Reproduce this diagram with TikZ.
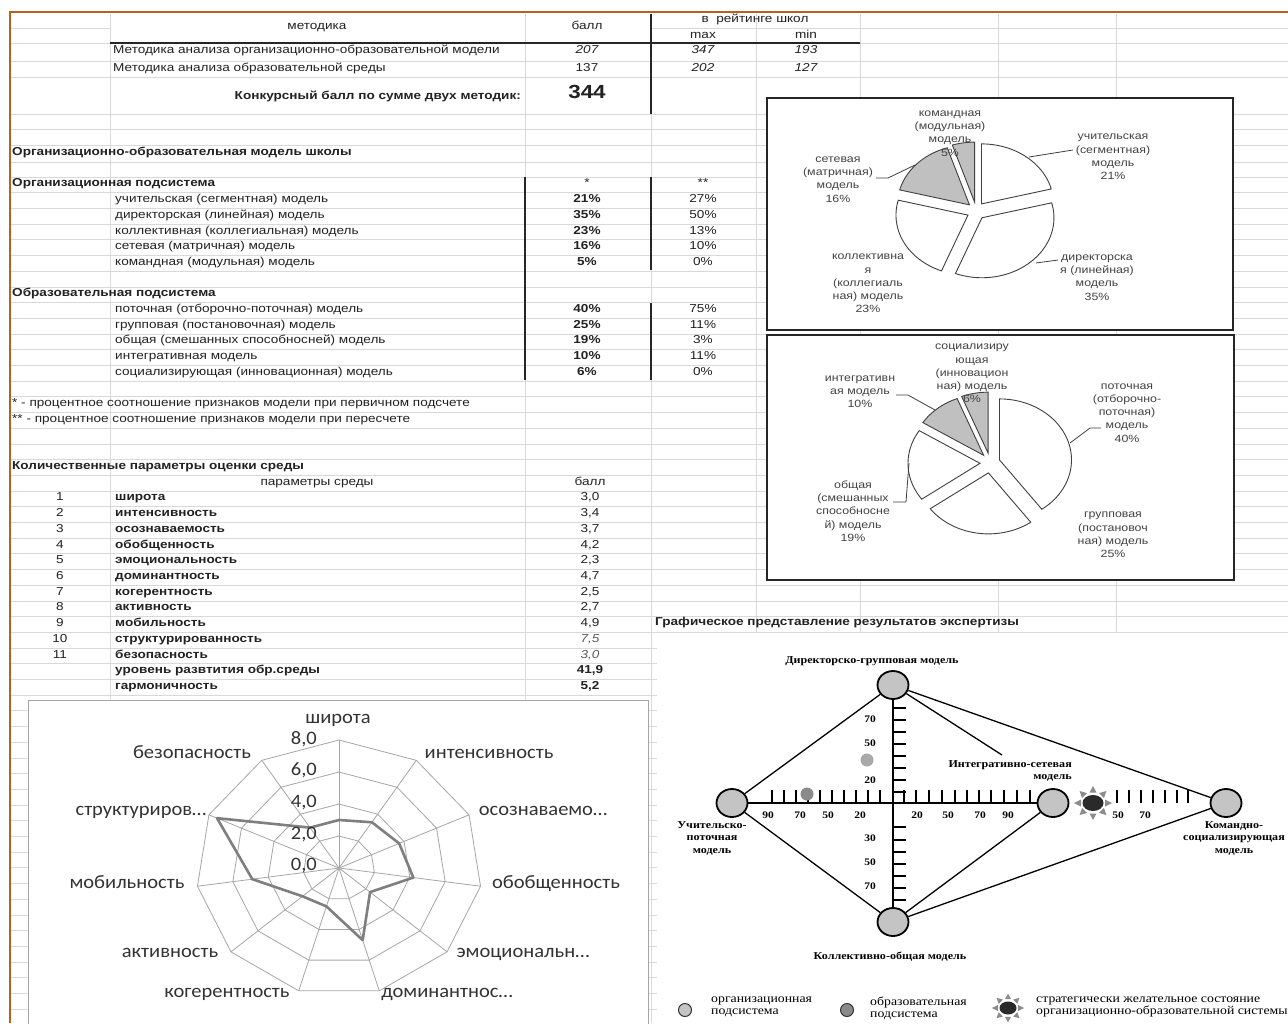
\documentclass[tikz,border=0pt]{standalone}
\usepackage{fontspec}
\usetikzlibrary{shapes.geometric}
\setmainfont{Liberation Sans}
\newfontfamily\xl{Liberation Sans}[FakeStretch=1.18]
\newfontfamily\xs{Liberation Serif}[FakeStretch=1.15]
\newfontfamily\xc{Carlito}[FakeStretch=1.08]
\definecolor{gridc}{HTML}{D9D9D9}
\definecolor{orangec}{HTML}{B4631E}
\definecolor{txt}{HTML}{222222}
\definecolor{piegray}{HTML}{C0C0C0}
\definecolor{radgrid}{HTML}{A6A6A6}
\definecolor{radser}{HTML}{7F7F7F}
\definecolor{dcfill}{HTML}{C4C4C4}
\definecolor{dotA}{HTML}{A9A9A9}
\definecolor{dotB}{HTML}{8A8A8A}
\definecolor{sunc}{HTML}{2A2A2A}
\definecolor{rayc}{HTML}{8C8C8C}
\newcommand\mysun[3]{%
  \foreach \ang in {0,45,...,315}{%
    \fill[rayc] ({#1+(#3*19)*sin(\ang)},{#2-(#3*17)*cos(\ang)})
      -- ({#1+(#3*12)*sin(\ang)+(#3*3.5)*cos(\ang)},{#2-(#3*10.5)*cos(\ang)+(#3*3.5)*sin(\ang)})
      -- ({#1+(#3*12)*sin(\ang)-(#3*3.5)*cos(\ang)},{#2-(#3*10.5)*cos(\ang)-(#3*3.5)*sin(\ang)}) -- cycle;}}
\begin{document}
\begin{tikzpicture}[x=1pt,y=-1pt,
  t/.style={inner sep=0pt, text=txt, font=\xl\fontsize{11.5}{13}\selectfont},
  tl/.style={t, anchor=mid west},
  tc/.style={t, anchor=mid},
  tr/.style={t, anchor=mid east},
  tb/.style={font=\xl\bfseries\fontsize{11.5}{13}\selectfont},
  ti/.style={font=\xl\itshape\fontsize{11.5}{13}\selectfont},
  pl/.style={inner sep=0pt, text=txt!85, align=center, font=\xl\fontsize{10.5}{13.2}\selectfont},
  rl/.style={inner sep=0pt, text=black!80, anchor=mid, font=\xc\fontsize{19}{21}\selectfont},
  ds/.style={inner sep=0pt, text=black, align=center, font=\xs\bfseries\fontsize{10.5}{12.5}\selectfont},
  dn/.style={inner sep=0pt, text=black, anchor=mid, font=\xs\bfseries\fontsize{10}{12}\selectfont},
  lg/.style={inner sep=0pt, text=black, anchor=north west, align=left, font=\xs\fontsize{12}{11.5}\selectfont},
  gl/.style={gridc, line width=0.8pt},
  bl/.style={black!85, line width=1.1pt},
  slice/.style={draw=black!75, line width=0.9pt},
  lead/.style={draw=black!75, line width=0.8pt},
  radgridline/.style={radgrid, line width=0.8pt},
  dcirc/.style={ellipse, draw=black, line width=1.8pt, fill=dcfill, minimum width=31pt, minimum height=28pt, inner sep=0pt},
  dline/.style={black, line width=1.3pt},
  daxis/.style={black, line width=2.6pt},
  dtick/.style={black, line width=1.1pt},
  sunnode/.style={ellipse, fill=sunc, minimum width=21pt, minimum height=16pt, inner sep=0pt}
]
\useasboundingbox (0,0) rectangle (1288,1023);
\fill[white] (0,0) rectangle (1288,1023);
% ---------- grid ----------
\foreach \yy in {43,61,77,114,129,145,162,177}{\draw[gl] (10,\yy) -- (1288,\yy);}
\draw[gl] (10,28) -- (110,28);
\draw[gl] (651,28) -- (1288,28);
\foreach \k in {1,...,54}{\draw[gl] (10,{177+15.7*\k}) -- (1288,{177+15.7*\k});}
\foreach \xx in {110,525,651,756,860,998,1116}{\draw[gl] (\xx,14) -- (\xx,1023);}
% ---------- orange frame ----------
\draw[orangec, line width=2pt] (10,1023) -- (10,12) -- (1288,12);
% ---------- black table lines ----------
\draw[bl] (110,43) -- (860,43);
\draw[bl] (651,14) -- (651,114);
\draw[bl] (525,177) -- (525,380);
\draw[bl] (651,177) -- (651,270);
\draw[bl] (651,303) -- (651,380);
% ---------- top table ----------
\node[tc] (h1) at (317,27) {методика};
\node[tc] (h2) at (587,27) {балл};
\node[tc] (h3) at (755,20) {в\ \ рейтинге школ};
\node[tc] (h4) at (703,36) {max};
\node[tc] (h5) at (806,36) {min};
\node[tl] (m1) at (113,51) {Методика анализа организационно-образовательной модели};
\node[tc,ti] (m1b) at (587,51) {207};
\node[tc,ti] (m1c) at (703,51) {347};
\node[tc,ti] (m1d) at (806,51) {193};
\node[tl] (m2) at (113,69) {Методика анализа образовательной среды};
\node[tc] (m2b) at (587,69) {137};
\node[tc,ti] (m2c) at (703,69) {202};
\node[tc,ti] (m2d) at (806,69) {127};
\node[tr,tb] (kb) at (521,97) {Конкурсный балл по сумме двух методик:};
\node[tc,font=\xl\bfseries\fontsize{19}{20}\selectfont] (kv) at (587,96) {344};
% ---------- model section ----------
\node[tl,tb] (sec1) at (12,153) {Организационно-образовательная модель школы};
\node[tl,tb] (sec2) at (12,184.35) {Организационная подсистема};
\node[tc] (st1) at (587,184.35) {*};
\node[tc] (st2) at (703,184.35) {**};
\foreach \n/\a/\b [count=\i] in {учительская (сегментная) модель/21\%/27\%, директорская (линейная) модель/35\%/50\%, коллективная (коллегиальная) модель/23\%/13\%, сетевая (матричная) модель/16\%/10\%, командная (модульная) модель/5\%/0\%}{
  \pgfmathsetmacro\yy{184.35+15.7*\i}
  \node[tl] (on\i) at (115,\yy) {\n};
  \node[tc,tb] (oa\i) at (587,\yy) {\a};
  \node[tc] (ob\i) at (703,\yy) {\b};
}
\node[tl,tb] (sec3) at (12,294.25) {Образовательная подсистема};
\foreach \n/\a/\b [count=\i] in {поточная (отборочно-поточная) модель/40\%/75\%, групповая (постановочная) модель/25\%/11\%, общая (смешанных способносней) модель/19\%/3\%, интегративная модель/10\%/11\%, социализирующая (инновационная) модель/6\%/0\%}{
  \pgfmathsetmacro\yy{184.35+15.7*(7+\i)}
  \node[tl] (en\i) at (115,\yy) {\n};
  \node[tc,tb] (ea\i) at (587,\yy) {\a};
  \node[tc] (eb\i) at (703,\yy) {\b};
}
\node[tl] (fn1) at (12,404.15) {* - процентное соотношение признаков модели при первичном подсчете};
\node[tl] (fn2) at (12,419.85) {** - процентное соотношение признаков модели при пересчете};
% ---------- parameters ----------
\node[tl,tb] (sec4) at (12,466.95) {Количественные параметры оценки среды};
\node[tc] (ph1) at (317,482.65) {параметры среды};
\node[tc] (ph2) at (590,482.65) {балл};
\foreach \n/\v [count=\i] in {широта/3{,}0, интенсивность/3{,}4, осознаваемость/3{,}7, обобщенность/4{,}2, эмоциональность/2{,}3, доминантность/4{,}7, когерентность/2{,}5, активность/2{,}7, мобильность/4{,}9}{
  \pgfmathsetmacro\yy{184.35+15.7*(19+\i)}
  \node[tc] (pi\i) at (60,\yy) {\i};
  \node[tl,tb] (pn\i) at (115,\yy) {\n};
  \node[tc] (pv\i) at (590,\yy) {\v};
}
\node[tc] (pi10) at (60,639.65) {10};
\node[tl,tb] (pn10) at (115,639.65) {структурированность};
\node[tc,ti,text=black!65] (pv10) at (590,639.65) {7,5};
\node[tc] (pi11) at (60,655.35) {11};
\node[tl,tb] (pn11) at (115,655.35) {безопасность};
\node[tc,ti,text=black!65] (pv11) at (590,655.35) {3,0};
\node[tl,tb] (pn12) at (115,671.05) {уровень развтития обр.среды};
\node[tc,tb] (pv12) at (590,671.05) {41,9};
\node[tl,tb] (pn13) at (115,686.75) {гармоничность};
\node[tc,tb] (pv13) at (590,686.75) {5,2};
% ---------- pie 1 ----------
\draw[fill=white, draw=black!85, line width=1.3pt] (767,98) rectangle (1233,330);
\foreach \a/\b/\f in {0/75.6/white, 75.6/201.6/white, 201.6/284.4/white, 284.4/342/piegray, 342/360/piegray}{
  \pgfmathsetmacro\mm{(\a+\b)/2}
  \pgfmathsetmacro\px{976+9*sin(\mm)}
  \pgfmathsetmacro\py{211-9*cos(\mm)}
  \draw[slice, fill=\f] (\px,\py) -- plot[domain=\a:\b, samples=40] ({\px+72*sin(\x)},{\py-60*cos(\x)}) -- cycle;
}
\node[pl] (p1a) at (950,133.5) {командная\\(модульная)\\модель\\5\%};
\node[pl] (p1b) at (838,179.5) {сетевая\\(матричная)\\модель\\16\%};
\node[pl] (p1c) at (1113,157) {учительская\\(сегментная)\\модель\\21\%};
\node[pl] (p1d) at (1097,277.5) {директорска\\я (линейная)\\модель\\35\%};
\node[pl] (p1e) at (868,283.5) {коллективна\\я\\(коллегиаль\\ная) модель\\23\%};
\draw[lead] (876,178) -- (888,178) -- (915,165);
\draw[lead] (1073,150) -- (1029,157);
\draw[lead] (1058,260) -- (1036,263);
% ---------- pie 2 ----------
\draw[fill=white, draw=black!85, line width=1.3pt] (767,335) rectangle (1234,580);
\foreach \a/\b/\f in {0/144/white, 144/234/white, 234/302.4/white, 302.4/338.4/piegray, 338.4/360/piegray}{
  \pgfmathsetmacro\mm{(\a+\b)/2}
  \pgfmathsetmacro\px{990+10*sin(\mm)}
  \pgfmathsetmacro\py{463-10*cos(\mm)}
  \draw[slice, fill=\f] (\px,\py) -- plot[domain=\a:\b, samples=40] ({\px+72*sin(\x)},{\py-61*cos(\x)}) -- cycle;
}
\node[pl] (p2a) at (972,373.5) {социализиру\\ющая\\(инновацион\\ная) модель\\6\%};
\node[pl] (p2b) at (860,391.5) {интегративн\\ая модель\\10\%};
\node[pl] (p2c) at (1127,413) {поточная\\(отборочно-\\поточная)\\модель\\40\%};
\node[pl] (p2d) at (1113,535) {групповая\\(постановоч\\ная) модель\\25\%};
\node[pl] (p2e) at (853,511) {общая\\(смешанных\\способносне\\й) модель\\19\%};
\draw[lead] (896,395) -- (908,395) -- (935,410);
\draw[lead] (1101,428) -- (1090,428) -- (1070,443);
\draw[lead] (893,502) -- (906,502) -- (909,463);
% ---------- radar ----------
\draw[fill=white, draw=black!35, line width=0.8pt] (28,700) rectangle (648,1030);
\coordinate (rc) at (339,868);
\foreach \r in {2,4,6,8}{
  \draw[radgridline] plot[samples at={0,...,11}] ({339+143*\r/8*sin(\x*360/11)},{868-128*\r/8*cos(\x*360/11)});
}
\foreach \i in {0,...,10}{\draw[radgridline] (rc) -- ({339+143*sin(\i*360/11)},{868-128*cos(\i*360/11)});}
\foreach \v [count=\i from 0] in {3.0,3.4,3.7,4.2,2.3,4.7,2.5,2.7,4.9,7.5,3.0}{
  \coordinate (v\i) at ({339+143*\v/8*sin(\i*360/11)},{868-128*\v/8*cos(\i*360/11)});
}
\draw[radser, line width=2.6pt, line join=round] (v0) -- (v1) -- (v2) -- (v3) -- (v4) -- (v5) -- (v6) -- (v7) -- (v8) -- (v9) -- (v10) -- cycle;
\node[rl, anchor=mid east] (s8) at (317,742) {8,0};
\node[rl, anchor=mid east] (s6) at (317,773) {6,0};
\node[rl, anchor=mid east] (s4) at (317,805) {4,0};
\node[rl, anchor=mid east] (s2) at (317,837) {2,0};
\node[rl, anchor=mid east] (s0) at (317,868) {0,0};
\node[rl] (c1) at (338,721) {широта};
\node[rl] (c2) at (489,756) {интенсивность};
\node[rl] (c3) at (543,813) {осознаваемо…};
\node[rl] (c4) at (556,886) {обобщенность};
\node[rl] (c5) at (523,955) {эмоциональн…};
\node[rl] (c6) at (447,995) {доминантнос…};
\node[rl] (c7) at (227,995) {когерентность};
\node[rl] (c8) at (170,955) {активность};
\node[rl] (c9) at (127,886) {мобильность};
\node[rl] (c10) at (141,813) {структуриров…};
\node[rl] (c11) at (192,756) {безопасность};
% ---------- expertise diagram ----------
\node[tl,tb] (gt) at (655,623) {Графическое представление результатов экспертизы};
\fill[white] (657,633) rectangle (1288,1023);
\node[dcirc] (dtop) at (893,685) {};
\node[dcirc] (dleft) at (732,803) {};
\node[dcirc] (dmid) at (1053,803) {};
\node[dcirc] (dright) at (1226,803) {};
\node[dcirc] (dbot) at (893,922) {};
\coordinate (dint) at (1002,755);
\draw[dline] (dtop) -- (dleft);
\draw[dline] (dtop) -- (dright);
\draw[dline] (dtop) -- (dint);
\draw[dline] (dbot) -- (dleft);
\draw[dline] (dbot) -- (dmid);
\draw[dline] (dbot) -- (dright);
\draw[daxis] (dtop) -- (dbot);
\draw[daxis] (dleft) -- (dmid);
\foreach \xx in {772,784,796,808,820,832,844,856,868,880,904,916,929,942,955,967,979,991,1004,1017,1030,1117,1129,1141,1153,1165,1177,1188}{\draw[dtick] (\xx,803) -- (\xx,790);}
\foreach \yy in {708,720,732,744,756,768,780,792,827,840,852,864,876,888,900}{\draw[dtick] (893,\yy) -- (906,\yy);}
\foreach \xx/\lb [count=\i] in {768/90,800/70,828/50,860/20,917/20,948/50,980/70,1008/90,1118/50,1145/70}{\node[dn] (hx\i) at (\xx,816) {\lb};}
\foreach \yy/\lb [count=\i] in {720/70,744/50,781/20,839/30,863/50,887/70}{\node[dn] (vy\i) at (870,\yy) {\lb};}
\fill[dotA] (867,760) circle (6.5);
\fill[dotB] (807,794) circle (6.5);
\mysun{1093}{803}{1}
\node[sunnode] (dsun) at (1093,803) {};
\node[ds] (lt1) at (872,661) {Директорско-групповая модель};
\node[ds, align=right, anchor=north east] (lt2) at (1072,760) {Интегративно-сетевая\\модель};
\node[ds] (lt3) at (712,838) {Учительско-\\поточная\\модель};
\node[ds] (lt4) at (1234,838) {Командно-\\социализирующая\\модель};
\node[ds] (lt5) at (890,957) {Коллективно-общая модель};
% legend
\node[circle, draw=black!80, line width=1pt, fill=dcfill, minimum size=13pt, inner sep=0pt] (lgA) at (685,1010) {};
\node[lg] (lgAt) at (711,997) {организационная\\подсистема};
\node[circle, draw=black!80, line width=1pt, fill=dotB, minimum size=13pt, inner sep=0pt] (lgB) at (847,1010) {};
\node[lg] (lgBt) at (870,997) {образовательная\\подсистема};
\mysun{1008}{1008}{0.85}
\node[sunnode, minimum width=17pt, minimum height=13pt] (lgC) at (1008,1008) {};
\node[lg] (lgCt) at (1036,997) {стратегически желательное состояние\\организационно-образовательной системы};
\end{tikzpicture}
\end{document}
